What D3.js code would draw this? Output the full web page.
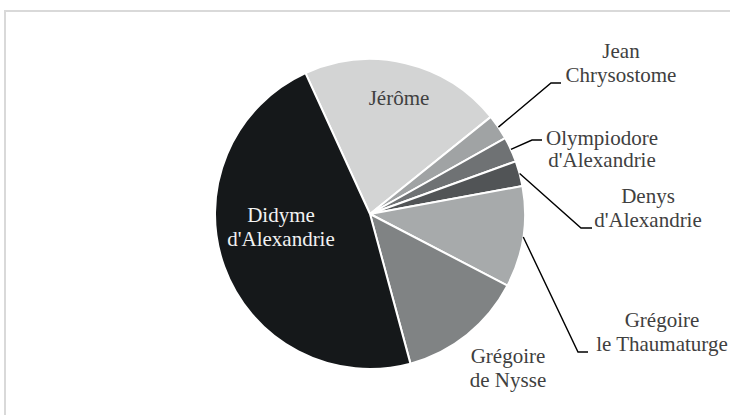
<!DOCTYPE html>
<html><head><meta charset="utf-8"><script src="https://cdn.jsdelivr.net/npm/d3@7"></script></head>
<body style="margin:0">
<div id="chart"></div>
<script>
// clockwise, starting with Jérôme
const labels = [
  ["Jérôme"],
  ["Jean", "Chrysostome"],
  ["Olympiodore", "d'Alexandrie"],
  ["Denys", "d'Alexandrie"],
  ["Grégoire", "le Thaumaturge"],
  ["Grégoire", "de Nysse"],
  ["Didyme", "d'Alexandrie"]
]
const values = [8, 1, 1, 1, 4, 5, 18]
const colors = ["#d3d4d4", "#a0a3a4", "#6f7274", "#515456", "#a7aaab", "#808384", "#15181a"]

// label placement: x, y of first baseline, leader elbow for outside labels
const layout = [
  { x: 399, y: 105 },
  { x: 621, y: 58, elbow: [551, 83], end: [561, 83] },
  { x: 602, y: 145, elbow: [532, 140], end: [542, 140] },
  { x: 648, y: 203, elbow: [581, 228], end: [592, 228] },
  { x: 662, y: 327, elbow: [578, 352], end: [588, 352] },
  { x: 508, y: 363 },
  { x: 281, y: 222 }
]

const width = 730, height = 415
const cx = 370, cy = 214, r = 155

const svg = d3.select("#chart").append("svg")
  .attr("width", width)
  .attr("height", height)

svg.append("rect")
  .attr("x", 5).attr("y", 11)
  .attr("width", width).attr("height", height)
  .attr("fill", "none")
  .attr("stroke", "#d9d9d9")
  .attr("stroke-width", 2)

const start = -24.6 * Math.PI / 180
const pie = d3.pie().sort(null).startAngle(start).endAngle(start + 2 * Math.PI)
const arc = d3.arc().innerRadius(0).outerRadius(r)
const edge = d3.arc().innerRadius(r).outerRadius(r)

const g = svg.append("g").attr("transform", `translate(${cx},${cy})`)
const arcs = pie(values)

g.selectAll("path")
  .data(arcs)
  .enter().append("path")
  .attr("d", arc)
  .attr("fill", (d, i) => colors[i])
  .attr("stroke", "#fff")
  .attr("stroke-width", 2)
  .attr("stroke-linejoin", "round")

// leader lines
arcs.forEach((d, i) => {
  const l = layout[i]
  if (!l.elbow) return
  const p = edge.centroid(d)
  const pts = [[p[0] + cx, p[1] + cy], l.elbow, l.end]
  svg.append("path")
    .attr("d", d3.line()(pts))
    .attr("fill", "none")
    .attr("stroke", "#000")
    .attr("stroke-width", 1.4)
})

labels.forEach((lines, i) => {
  const l = layout[i]
  lines.forEach((s, j) => {
    svg.append("text")
      .attr("x", l.x)
      .attr("y", l.y + j * (i === 2 ? 22 : 24))
      .attr("text-anchor", "middle")
      .attr("fill", i === 6 ? "#f2f2f2" : "#404040")
      .style("font-family", "'Liberation Serif', monospace")
      .style("font-size", "21px")
      .text(s)
  })
})
</script></body></html>
